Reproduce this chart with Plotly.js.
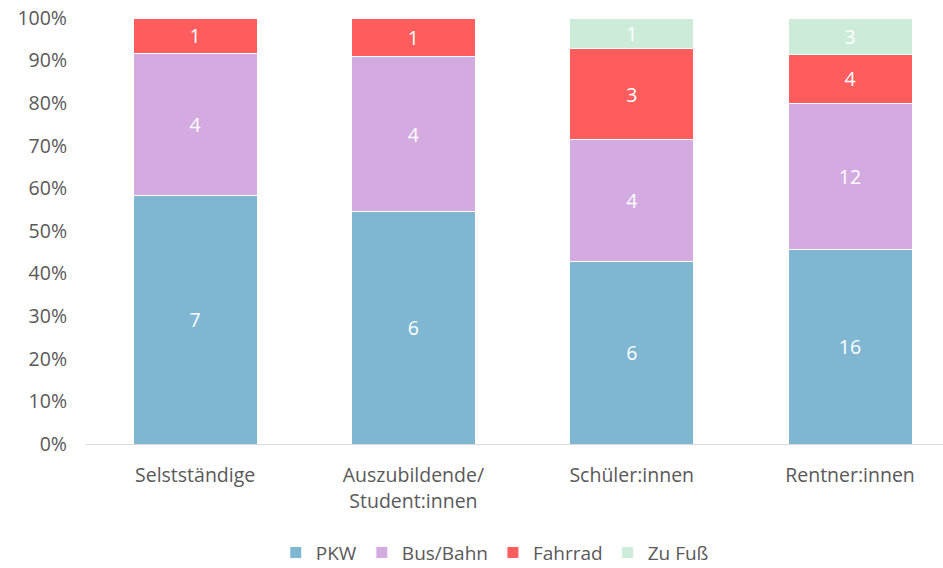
<!DOCTYPE html>
<html>
<head>
<meta charset="utf-8">
<script src="https://cdn.plot.ly/plotly-3.0.1.min.js"></script>
<style>html,body{margin:0;padding:0;background:#fff;}#chart{width:943px;height:568px;}</style>
</head>
<body>
<div id="chart"></div>
<script>
const categories = ['Selstständige', 'Auszubildende/<br>Student:innen', 'Schüler:innen', 'Rentner:innen'];
const seriesNames = ['PKW', 'Bus/Bahn', 'Fahrrad', 'Zu Fuß'];
const pkw = [7, 6, 6, 16];
const busBahn = [4, 4, 4, 12];
const fahrrad = [1, 1, 3, 4];
const zuFuss = [null, null, 1, 3];
const colors = ['#7FB7D3', '#D3ABE0', '#FF5C5E', '#CDEBD9'];
const yTicks = [0, 10, 20, 30, 40, 50, 60, 70, 80, 90, 100];

const FONT = '"Open Sans", "Noto Sans", sans-serif';
const seriesValues = [pkw, busBahn, fahrrad, zuFuss];
const traces = seriesValues.map((vals, i) => ({
  type: 'bar',
  name: seriesNames[i],
  x: categories,
  y: vals,
  text: vals.map(v => v == null ? '' : String(v)),
  textposition: 'inside',
  insidetextanchor: 'middle',
  textangle: 0,
  constraintext: 'none',
  textfont: {color: '#ffffff', size: 19.5, family: FONT},
  marker: {color: colors[i], line: {color: '#ffffff', width: 1}},
  hoverinfo: 'skip'
}));

const layout = {
  width: 943,
  height: 568,
  barmode: 'stack',
  barnorm: 'percent',
  bargap: 0.432,
  margin: {l: 86, r: 0, t: 18, b: 124, autoexpand: false},
  paper_bgcolor: '#ffffff',
  plot_bgcolor: '#ffffff',
  font: {family: FONT, color: '#595959', size: 19.5},
  xaxis: {
    range: [-0.5, 3.426],
    showgrid: false,
    showline: true,
    linecolor: '#D9D9D9',
    linewidth: 1,
    ticks: '',
    automargin: false,
    ticklabelstandoff: 14,
    tickfont: {size: 19.5, color: '#595959'},
    fixedrange: true
  },
  yaxis: {
    range: [0, 100],
    tickvals: yTicks,
    ticktext: yTicks.map(v => v + '%'),
    showgrid: false,
    zeroline: false,
    showline: false,
    ticks: '',
    ticklen: 0,
    automargin: false,
    ticklabelstandoff: 18,
    tickfont: {size: 19.5, color: '#595959'},
    fixedrange: true
  },
  showlegend: true,
  legend: {
    orientation: 'h',
    x: 0.477,
    xanchor: 'center',
    y: -0.255,
    yanchor: 'middle',
    font: {size: 19, color: '#595959'},
    traceorder: 'normal',
    itemwidth: 30
  }
};

Plotly.newPlot('chart', traces, layout, {displayModeBar: false, staticPlot: true});
</script>
</body>
</html>
